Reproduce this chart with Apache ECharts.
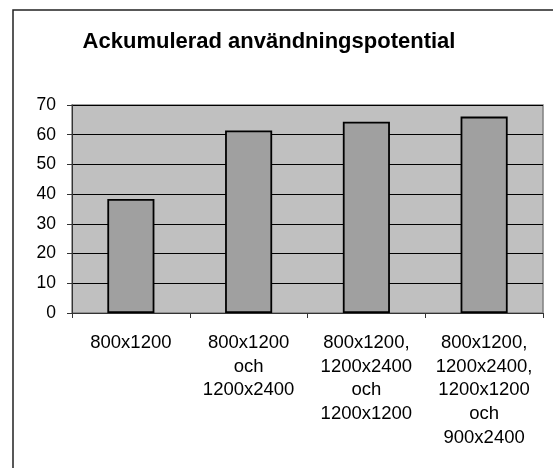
<!DOCTYPE html>
<html>
<head>
<meta charset="utf-8">
<script src="https://cdn.jsdelivr.net/npm/echarts@6/dist/echarts.min.js"></script>
<style>html,body{margin:0;padding:0;background:#fff}#c{width:553px;height:468px}</style>
</head>
<body>
<div id="c"></div>
<script>
var titleText = 'Ackumulerad användningspotential';
var categories = ['800x1200', '800x1200\noch\n1200x2400', '800x1200,\n1200x2400\noch\n1200x1200', '800x1200,\n1200x2400,\n1200x1200\noch\n900x2400'];
var values = [38.4, 61.4, 64.4, 66.1];
var yTicks = [0, 10, 20, 30, 40, 50, 60, 70];

var chart = echarts.init(document.getElementById('c'), null, {renderer: 'canvas'});
var font = 'Liberation Sans, Arial, sans-serif';
chart.setOption({
  animation: false,
  backgroundColor: '#ffffff',
  title: {
    text: titleText,
    left: 264, top: 26, textAlign: 'center',
    textStyle: {fontFamily: font, fontSize: 22, fontWeight: 'bold', color: '#000'}
  },
  graphic: [{
    type: 'rect', silent: true, z: -1,
    shape: {x: 13, y: 10, width: 600, height: 500},
    style: {fill: 'none', stroke: '#222', lineWidth: 1.5}
  }],
  grid: {left: 72, right: 10, top: 105, bottom: 155, show: true, backgroundColor: '#C0C0C0', borderColor: '#808080', borderWidth: 1.5},
  xAxis: {
    type: 'category', data: categories,
    axisLine: {lineStyle: {color: '#333', width: 1}},
    axisTick: {show: true, length: 5, lineStyle: {color: '#333'}},
    axisLabel: {fontFamily: font, fontSize: 18.5, color: '#000', lineHeight: 23.7, margin: 18, interval: 0}
  },
  yAxis: {
    type: 'value', min: yTicks[0], max: yTicks[yTicks.length - 1], interval: 10,
    axisLine: {show: true, lineStyle: {color: '#333', width: 1}},
    axisTick: {show: true, length: 5, lineStyle: {color: '#333'}},
    axisLabel: {fontFamily: font, fontSize: 17.5, color: '#000', margin: 16},
    splitLine: {lineStyle: {color: '#000', width: 1}}
  },
  series: [{
    type: 'bar', data: values, barWidth: '40%',
    itemStyle: {color: '#A0A0A0', borderColor: '#000', borderWidth: 1.8}
  }]
});
</script>
</body>
</html>
